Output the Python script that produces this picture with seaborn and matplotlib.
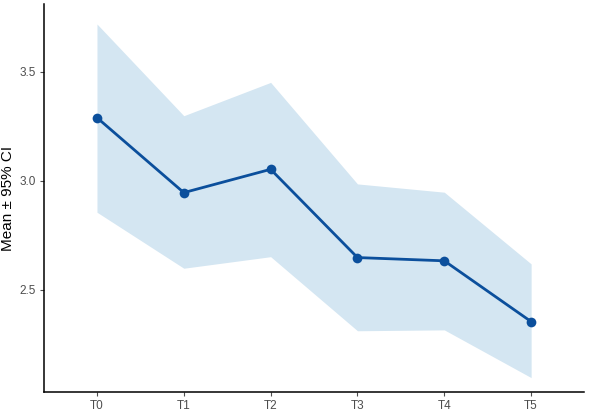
import pandas as pd
import seaborn as sns
import matplotlib.pyplot as plt

# 数据
times = ['T0', 'T1', 'T2', 'T3', 'T4', 'T5']
mean = [3.289, 2.945, 3.052, 2.647, 2.632, 2.353]
ci_low = [2.855, 2.598, 2.651, 2.311, 2.315, 2.096]
ci_high = [3.719, 3.298, 3.451, 2.985, 2.947, 2.618]

df = pd.DataFrame({'time': times, 'mean': mean, 'low': ci_low, 'high': ci_high})

sns.set_style('ticks')
plt.rcParams['font.family'] = ['Liberation Sans', 'DejaVu Sans']

fig = plt.figure(figsize=(5.9, 4.17), dpi=100)
ax = fig.add_axes([0.0746, 0.06, 0.9154, 0.93])

pos = list(range(len(times)))
ax.fill_between(pos, df['low'], df['high'], color='#d4e6f2', linewidth=0, zorder=1)
sns.lineplot(x=pos, y=df['mean'], ax=ax, color='#0b4f9c', linewidth=2,
             marker='o', markersize=7, markeredgewidth=0, zorder=3)

ax.set_xticks(pos)
ax.set_xticklabels(times)
ax.set_xlim(-0.61, 5.61)
ax.set_ylim(2.03, 3.81)
ax.set_yticks([2.5, 3.0, 3.5])
ax.set_yticklabels(['2.5', '3.0', '3.5'])

ax.set_xlabel('')
ax.set_ylabel('Mean ± 95% CI', fontsize=11, color='black', labelpad=3)
ax.tick_params(axis='both', labelsize=8.5, colors='#4d4d4d', length=3, width=0.8, pad=3)
for s in ['left', 'bottom']:
    ax.spines[s].set_linewidth(1.1)
    ax.spines[s].set_color('black')
sns.despine(ax=ax)

plt.savefig('out.png', dpi=100)
